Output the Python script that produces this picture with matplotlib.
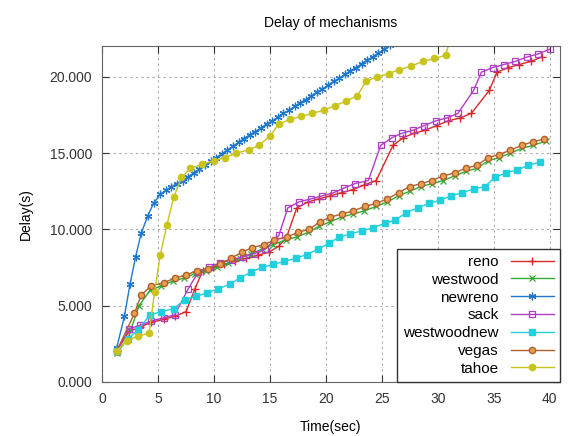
import matplotlib
matplotlib.use('Agg')
import matplotlib.pyplot as plt
from matplotlib.ticker import FormatStrFormatter, MultipleLocator

plt.rcParams['font.family'] = ['Liberation Sans', 'DejaVu Sans']

# data (time in s, delay in s)
reno_t = [1.3, 2.4, 3.4, 4.4, 5.5, 6.5, 7.5, 8.3, 9.0, 9.9, 10.9, 11.9, 12.9, 13.9,
          14.9, 15.8, 16.5, 17.4, 18.4, 19.4, 20.4, 21.4, 22.4, 23.4, 24.5, 26.0,
          26.9, 27.9, 28.9, 29.9, 30.9, 32.0, 33.0, 34.6, 35.3, 36.3, 37.3, 38.3, 39.3]
reno_v = [2.0, 3.3, 3.6, 3.9, 4.1, 4.3, 4.6, 6.1, 7.3, 7.5, 7.7, 7.9, 8.1, 8.3,
          8.5, 8.9, 9.5, 11.4, 11.8, 12.0, 12.2, 12.4, 12.6, 12.9, 13.2, 15.5,
          16.0, 16.3, 16.5, 16.8, 17.1, 17.3, 17.6, 19.1, 20.3, 20.6, 20.8, 21.0, 21.3]

westwood_t = [1.3, 2.3, 3.3, 4.3, 5.3, 6.3, 7.3, 8.3, 9.3, 10.3, 11.3, 12.3, 13.3,
              14.3, 15.3, 16.4, 17.4, 18.4, 19.4, 20.4, 21.4, 22.4, 23.4, 24.5,
              25.5, 26.5, 27.5, 28.5, 29.5, 30.5, 31.5, 32.5, 33.5, 34.5, 35.5,
              36.5, 37.5, 38.5, 39.7]
westwood_v = [1.9, 2.8, 5.0, 6.0, 6.3, 6.6, 6.8, 7.1, 7.3, 7.5, 7.8, 8.1, 8.4,
              8.7, 9.0, 9.3, 9.5, 9.8, 10.2, 10.5, 10.8, 11.0, 11.2, 11.5,
              11.8, 12.2, 12.5, 12.8, 13.0, 13.2, 13.5, 13.8, 14.0, 14.5, 14.7,
              15.0, 15.3, 15.5, 15.8]

newreno_t = [1.3, 2.0, 2.5, 3.0, 3.5, 4.1, 4.6, 5.2, 5.7, 6.2, 6.7, 7.2, 7.7, 8.2,
             8.7, 9.2, 9.7, 10.2, 10.7, 11.2, 11.7, 12.2, 12.7, 13.2, 13.7, 14.2,
             14.7, 15.2, 15.7, 16.2, 16.7, 17.2, 17.7, 18.2, 18.7, 19.2, 19.7,
             20.2, 20.7, 21.2, 21.7, 22.2, 22.7, 23.2, 23.7, 24.2, 24.7, 25.2, 25.7]
newreno_v = [2.2, 4.3, 6.4, 8.2, 9.75, 10.9, 11.7, 12.3, 12.55, 12.8, 13.0, 13.2,
             13.45, 13.7, 13.95, 14.2, 14.45, 14.7, 14.95, 15.2, 15.45, 15.7, 15.95,
             16.2, 16.4, 16.65, 16.9, 17.1, 17.35, 17.6, 17.8, 18.05, 18.3, 18.5,
             18.75, 19.0, 19.2, 19.45, 19.7, 19.9, 20.15, 20.4, 20.6, 20.85, 21.1,
             21.3, 21.55, 21.8, 22.05]

sack_t = [1.3, 2.4, 3.4, 4.4, 5.5, 6.5, 7.7, 8.6, 9.6, 10.5, 11.6, 12.6, 13.6, 14.6,
          15.8, 16.6, 17.6, 18.7, 19.7, 20.7, 21.6, 22.6, 23.8, 24.9, 25.9, 26.8,
          27.8, 28.8, 29.8, 30.8, 31.8, 33.2, 33.9, 34.9, 35.9, 36.9, 38.0, 39.0, 40.0]
sack_v = [2.0, 3.5, 3.7, 4.0, 4.2, 4.4, 6.1, 7.2, 7.5, 7.8, 8.0, 8.2, 8.4, 8.7,
          9.6, 11.4, 11.8, 12.0, 12.2, 12.4, 12.7, 13.0, 13.2, 15.5, 16.0, 16.3,
          16.5, 16.8, 17.1, 17.3, 17.6, 19.1, 20.3, 20.6, 20.8, 21.0, 21.3, 21.5, 21.8]

wwnew_t = [1.3, 2.3, 3.2, 4.3, 5.3, 6.4, 7.4, 8.4, 9.4, 10.4, 11.4, 12.3, 13.3,
           14.3, 15.3, 16.3, 17.3, 18.3, 19.3, 20.3, 21.2, 22.2, 23.2, 24.2, 25.3,
           26.2, 27.2, 28.2, 29.2, 30.2, 31.2, 32.2, 33.2, 34.2, 35.1, 36.1, 37.1,
           38.1, 39.1]
wwnew_v = [2.0, 2.8, 3.4, 4.4, 4.6, 4.8, 5.4, 5.6, 5.85, 6.1, 6.4, 6.8, 7.2,
           7.5, 7.7, 7.9, 8.1, 8.35, 8.7, 9.1, 9.5, 9.7, 9.9, 10.1, 10.4,
           10.6, 11.1, 11.4, 11.7, 11.9, 12.2, 12.4, 12.65, 12.8, 13.4, 13.7, 13.9,
           14.2, 14.4]

vegas_t = [1.3, 2.9, 3.5, 4.4, 5.5, 6.5, 7.5, 8.5, 9.5, 10.5, 11.5, 12.5, 13.4,
           14.5, 15.4, 16.5, 17.5, 18.5, 19.5, 20.4, 21.4, 22.4, 23.5, 24.5, 25.5,
           26.5, 27.5, 28.5, 29.5, 30.5, 31.5, 32.5, 33.5, 34.5, 35.5, 36.5, 37.5,
           38.5, 39.5]
vegas_v = [2.0, 4.5, 5.7, 6.3, 6.5, 6.8, 7.0, 7.3, 7.4, 7.7, 8.1, 8.5, 8.8,
           9.0, 9.3, 9.5, 9.8, 10.0, 10.5, 10.8, 11.0, 11.2, 11.5, 11.7, 12.0,
           12.4, 12.8, 13.0, 13.2, 13.5, 13.7, 14.0, 14.2, 14.7, 14.9, 15.2, 15.5,
           15.75, 15.9]

tahoe_t = [1.3, 2.2, 3.2, 4.2, 4.7, 5.2, 5.8, 6.4, 7.1, 7.9, 8.95, 10.0, 11.0, 12.0,
           13.1, 14.0, 15.0, 15.8, 16.8, 17.8, 18.8, 19.8, 20.8, 21.8, 22.8, 23.6,
           24.6, 25.6, 26.5, 27.6, 28.7, 29.7, 30.7, 31.7]
tahoe_v = [2.0, 2.7, 3.0, 3.2, 5.9, 8.3, 10.3, 12.1, 13.4, 14.0, 14.25, 14.5, 14.7,
           15.0, 15.2, 15.5, 16.1, 16.9, 17.2, 17.4, 17.6, 17.8, 18.1, 18.4, 18.75,
           19.7, 20.0, 20.2, 20.45, 20.7, 21.0, 21.2, 21.4, 24.0]

fig = plt.figure(figsize=(5.7, 4.36), dpi=100)
ax = fig.add_axes([0.179, 0.124, 0.803, 0.770])

ax.plot(reno_t, reno_v, color='#d8282a', lw=1, marker='+', ms=6, mew=1.0, label='reno')
ax.plot(westwood_t, westwood_v, color='#33aa33', lw=1, marker='x', ms=4.5, mew=0.9, label='westwood')
ax.plot(newreno_t, newreno_v, color='#1f78cc', lw=1, marker=(6, 2, 0), ms=5.5, mew=0.9, label='newreno')
ax.plot(sack_t, sack_v, color='#b03cc8', lw=1, marker='s', ms=5, mew=0.9,
        mfc='none', label='sack')
ax.plot(wwnew_t, wwnew_v, color='#22d0dd', lw=1, marker='s', ms=4.5, label='westwoodnew')
ax.plot(vegas_t, vegas_v, color='#b0602c', lw=1, marker='o', ms=4.5, mew=1.0,
        mfc='#e8a050', label='vegas')
ax.plot(tahoe_t, tahoe_v, color='#c8c41c', lw=1, marker='o', ms=4.5, label='tahoe')

ax.set_xlim(0, 40.9)
ax.set_ylim(0, 22)
ax.xaxis.set_major_locator(MultipleLocator(5))
ax.yaxis.set_major_locator(MultipleLocator(5))
ax.yaxis.set_major_formatter(FormatStrFormatter('%.3f'))
ax.tick_params(direction='in', top=True, right=True, length=5, labelsize=10,
               colors='#333333', pad=7)
ax.grid(True, linestyle=(0, (2, 3)), color='#aaaaaa', lw=0.8)
for s in ax.spines.values():
    s.set_color('#666666')

ax.set_title('Delay of mechanisms', fontsize=10, pad=14)
ax.set_xlabel('Time(sec)', fontsize=10, labelpad=10)
ax.set_ylabel('Delay(s)', fontsize=10, labelpad=12)

leg = ax.legend(loc='lower right', markerfirst=False, fontsize=11, borderaxespad=0,
                handlelength=2.8, handletextpad=0.8, labelspacing=0.25,
                fancybox=False, framealpha=1, edgecolor='#333333')
leg.get_frame().set_linewidth(1.0)

fig.savefig('out.png', dpi=100)
